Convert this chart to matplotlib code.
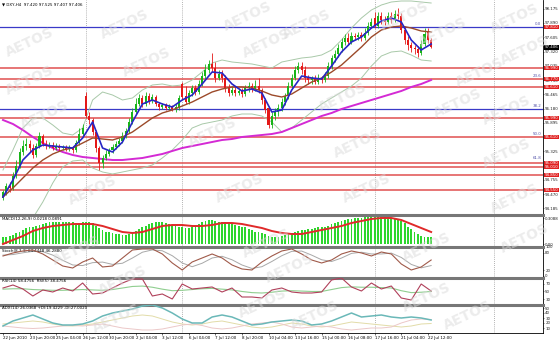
import numpy as np
import matplotlib
matplotlib.use("Agg")
import matplotlib.pyplot as plt
import matplotlib.transforms as mtransforms

# ---- price data (H4 candles) ----
opens = [94.39, 94.51, 94.63, 94.59, 94.83, 95.03, 95.31, 95.43, 95.47, 95.39,
         95.25, 95.43, 95.63, 95.47, 95.43, 95.45, 95.39, 95.43, 95.39, 95.41,
         95.37, 95.39, 95.35, 95.49, 95.67, 96.43, 96.03, 95.95, 95.71, 95.39,
         95.09, 95.19, 95.27, 95.35, 95.41, 95.47, 95.53, 95.63, 95.73, 95.91,
         96.11, 96.27, 96.39, 96.27, 96.43, 96.33, 96.41, 96.27, 96.21, 96.25,
         96.19, 96.21, 96.17, 96.21, 96.67, 96.43, 96.31, 96.49, 96.59, 96.51,
         96.67, 96.83, 96.95, 97.07, 96.99, 96.79, 96.87, 96.79, 96.59, 96.49,
         96.55, 96.49, 96.53, 96.47, 96.59, 96.63, 96.57, 96.63, 96.55, 96.35,
         96.19, 95.85, 96.03, 96.11, 96.19, 96.31, 96.43, 96.63, 96.79, 96.95,
         97.03, 96.95, 96.79, 96.75, 96.79, 96.71, 96.79, 96.75, 96.83, 97.03,
         97.19, 97.27, 97.39, 97.51, 97.59, 97.51, 97.63, 97.61, 97.65, 97.59,
         97.69, 97.83, 97.99, 97.83, 98.03, 97.95, 97.91, 98.03, 97.95, 98.07,
         98.03, 97.75, 97.55, 97.45, 97.39, 97.37, 97.29, 97.47, 97.71, 97.55]
highs = [94.55, 94.69, 94.71, 94.91, 95.15, 95.39, 95.55, 95.59, 95.55, 95.47,
         95.49, 95.71, 95.67, 95.55, 95.51, 95.51, 95.49, 95.47, 95.45, 95.45,
         95.45, 95.43, 95.55, 95.79, 95.87, 96.51, 96.11, 95.99, 95.75, 95.43,
         95.25, 95.35, 95.39, 95.47, 95.53, 95.59, 95.71, 95.79, 95.99, 96.19,
         96.39, 96.47, 96.45, 96.51, 96.49, 96.47, 96.45, 96.31, 96.29, 96.29,
         96.27, 96.25, 96.27, 96.45, 96.71, 96.63, 96.55, 96.65, 96.65, 96.75,
         96.91, 97.07, 97.15, 97.29, 97.11, 96.95, 96.95, 96.85, 96.67, 96.63,
         96.63, 96.59, 96.59, 96.65, 96.71, 96.69, 96.75, 96.79, 96.59, 96.39,
         96.23, 96.11, 96.19, 96.27, 96.39, 96.49, 96.71, 96.87, 97.03, 97.11,
         97.11, 97.03, 96.85, 96.83, 96.85, 96.87, 96.83, 96.91, 97.11, 97.25,
         97.35, 97.47, 97.59, 97.67, 97.69, 97.71, 97.69, 97.71, 97.71, 97.79,
         97.91, 97.99, 98.11, 98.11, 98.11, 98.03, 98.11, 98.11, 98.15, 98.19,
         98.09, 97.83, 97.63, 97.51, 97.45, 97.43, 97.55, 97.79, 97.79, 97.59]
lows = [94.35, 94.45, 94.51, 94.55, 94.79, 94.99, 95.25, 95.35, 95.31, 95.19,
        95.21, 95.39, 95.43, 95.37, 95.39, 95.35, 95.35, 95.33, 95.35, 95.33,
        95.33, 95.29, 95.31, 95.45, 95.63, 95.99, 95.87, 95.65, 95.31, 94.95,
        94.99, 95.15, 95.23, 95.29, 95.37, 95.43, 95.49, 95.59, 95.69, 95.87,
        96.07, 96.23, 96.21, 96.23, 96.27, 96.29, 96.23, 96.15, 96.17, 96.15,
        96.15, 96.13, 96.11, 96.15, 96.37, 96.27, 96.27, 96.43, 96.45, 96.47,
        96.63, 96.77, 96.89, 96.91, 96.71, 96.75, 96.71, 96.51, 96.43, 96.45,
        96.43, 96.45, 96.41, 96.43, 96.51, 96.51, 96.53, 96.49, 96.27, 96.09,
        95.79, 95.79, 95.95, 96.03, 96.13, 96.25, 96.37, 96.57, 96.75, 96.89,
        96.87, 96.71, 96.67, 96.67, 96.67, 96.67, 96.69, 96.71, 96.79, 96.97,
        97.11, 97.21, 97.31, 97.45, 97.45, 97.47, 97.55, 97.55, 97.53, 97.55,
        97.65, 97.79, 97.79, 97.79, 97.87, 97.85, 97.87, 97.89, 97.91, 97.97,
        97.69, 97.47, 97.35, 97.31, 97.27, 97.21, 97.25, 97.43, 97.49, 97.39]
closes = [94.51, 94.63, 94.59, 94.83, 95.03, 95.31, 95.43, 95.47, 95.39, 95.25,
          95.43, 95.63, 95.47, 95.43, 95.45, 95.39, 95.43, 95.39, 95.41, 95.37,
          95.39, 95.35, 95.49, 95.67, 95.79, 96.03, 95.95, 95.71, 95.39, 95.09,
          95.19, 95.27, 95.35, 95.41, 95.47, 95.53, 95.63, 95.73, 95.91, 96.11,
          96.27, 96.39, 96.27, 96.43, 96.33, 96.41, 96.27, 96.21, 96.25, 96.19,
          96.21, 96.17, 96.21, 96.39, 96.41, 96.31, 96.49, 96.59, 96.51, 96.67,
          96.83, 96.95, 97.07, 96.99, 96.79, 96.87, 96.79, 96.59, 96.49, 96.55,
          96.49, 96.53, 96.47, 96.59, 96.63, 96.57, 96.63, 96.55, 96.35, 96.15,
          95.85, 96.03, 96.11, 96.19, 96.31, 96.43, 96.63, 96.79, 96.95, 97.03,
          96.95, 96.79, 96.75, 96.79, 96.71, 96.79, 96.75, 96.83, 97.03, 97.19,
          97.27, 97.39, 97.51, 97.59, 97.51, 97.63, 97.61, 97.65, 97.59, 97.69,
          97.83, 97.91, 97.83, 98.03, 97.95, 97.91, 98.03, 97.95, 98.07, 98.03,
          97.75, 97.55, 97.45, 97.39, 97.37, 97.29, 97.47, 97.67, 97.55, 97.41]

# indicator lines, read every 3rd bar
ma_fast = [94.41, 94.75, 95.15, 95.35, 95.45, 95.43, 95.41, 95.39, 95.59, 95.91,
           95.39, 95.31, 95.51, 95.91, 96.27, 96.35, 96.27, 96.21, 96.35, 96.45,
           96.67, 96.91, 96.89, 96.67, 96.53, 96.57, 96.49, 96.11, 96.15, 96.55,
           96.83, 96.79, 96.77, 97.03, 97.31, 97.51, 97.61, 97.79, 97.93, 97.99,
           97.91, 97.55, 97.35, 97.47]
ma_mid = [94.41, 94.59, 94.79, 94.99, 95.15, 95.27, 95.35, 95.39, 95.49, 95.59,
          95.57, 95.55, 95.61, 95.71, 95.85, 95.99, 96.09, 96.15, 96.23, 96.31,
          96.41, 96.51, 96.57, 96.61, 96.61, 96.59, 96.53, 96.45, 96.41, 96.47,
          96.59, 96.71, 96.79, 96.91, 97.05, 97.23, 97.41, 97.61, 97.75, 97.81,
          97.83, 97.79, 97.73, 97.71]
ma_slow = [95.95, 95.87, 95.75, 95.61, 95.49, 95.39, 95.31, 95.25, 95.21, 95.19,
           95.17, 95.15, 95.15, 95.17, 95.19, 95.23, 95.27, 95.33, 95.39, 95.43,
           95.47, 95.51, 95.55, 95.57, 95.61, 95.63, 95.65, 95.67, 95.71, 95.79,
           95.87, 95.95, 96.03, 96.09, 96.17, 96.23, 96.29, 96.35, 96.41, 96.47,
           96.53, 96.61, 96.67, 96.75]
bb_upper = [94.95, 95.35, 95.79, 95.99, 95.99, 95.85, 95.69, 95.65, 95.79, 96.35,
            96.51, 96.45, 96.35, 96.39, 96.55, 96.65, 96.67, 96.63, 96.65, 96.75,
            96.91, 97.09, 97.15, 97.11, 97.09, 97.07, 97.03, 96.99, 97.11, 97.15,
            97.19, 97.21, 97.25, 97.35, 97.55, 97.79, 97.99, 98.15, 98.25, 98.31,
            98.33, 98.33, 98.31, 98.29]
bb_lower = [93.87, 93.83, 93.79, 93.99, 94.31, 94.69, 95.01, 95.13, 95.15, 94.99,
            94.91, 94.87, 94.91, 94.95, 94.99, 95.05, 95.19, 95.35, 95.55, 95.79,
            95.87, 95.91, 95.95, 96.03, 96.07, 96.07, 96.03, 95.91, 95.71, 95.79,
            95.95, 96.11, 96.27, 96.39, 96.51, 96.63, 96.79, 97.03, 97.23, 97.31,
            97.33, 97.25, 97.15, 97.13]

macd_hist = [0.08, 0.09, 0.10, 0.11, 0.13, 0.15, 0.17, 0.19, 0.20, 0.21,
             0.22, 0.23, 0.24, 0.25, 0.26, 0.26, 0.27, 0.27, 0.27, 0.26,
             0.26, 0.26, 0.25, 0.25, 0.26, 0.27, 0.27, 0.25, 0.22, 0.19,
             0.17, 0.15, 0.14, 0.13, 0.12, 0.12, 0.11, 0.11, 0.12, 0.14,
             0.16, 0.18, 0.20, 0.22, 0.24, 0.25, 0.26, 0.26, 0.26, 0.25,
             0.24, 0.23, 0.22, 0.21, 0.20, 0.19, 0.19, 0.20, 0.22, 0.24,
             0.26, 0.28, 0.29, 0.29, 0.28, 0.27, 0.27, 0.26, 0.25, 0.24,
             0.23, 0.22, 0.21, 0.20, 0.18, 0.17, 0.15, 0.14, 0.13, 0.12,
             0.10, 0.09, 0.09, 0.09, 0.10, 0.11, 0.12, 0.13, 0.15, 0.16,
             0.17, 0.17, 0.18, 0.18, 0.19, 0.20, 0.20, 0.21, 0.22, 0.24,
             0.25, 0.26, 0.28, 0.29, 0.30, 0.30, 0.31, 0.31, 0.31, 0.32,
             0.32, 0.33, 0.33, 0.33, 0.32, 0.32, 0.32, 0.31, 0.31, 0.30,
             0.28, 0.25, 0.21, 0.18, 0.15, 0.12, 0.10, 0.09, 0.09, 0.08]
macd_signal = [0.0, 0.048, 0.096, 0.156, 0.192, 0.216, 0.228, 0.24, 0.24, 0.24,
               0.216, 0.18, 0.144, 0.132, 0.144, 0.18, 0.216, 0.228, 0.228, 0.216,
               0.216, 0.228, 0.252, 0.252, 0.24, 0.216, 0.192, 0.156, 0.132, 0.12,
               0.12, 0.144, 0.168, 0.192, 0.216, 0.252, 0.276, 0.30, 0.312, 0.312,
               0.288, 0.24, 0.192, 0.144]
stoch_main = [69.0, 79.4, 86.3, 89.7, 75.9, 55.2, 34.5, 27.6, 48.3, 62.1,
              31.1, 34.5, 62.1, 89.7, 93.2, 93.2, 75.9, 44.9, 20.7, 48.3,
              62.1, 75.9, 62.1, 38.0, 24.2, 20.7, 48.3, 69.0, 86.3, 93.2,
              75.9, 55.2, 44.9, 55.2, 75.9, 86.3, 79.4, 69.0, 82.8, 75.9,
              41.4, 20.7, 31.1, 55.2]
stoch_signal = [72, 74, 80, 85, 84, 72, 54, 38, 36, 46, 48, 40, 44, 62, 82,
                90, 87, 70, 45, 32, 44, 62, 68, 56, 38, 26, 32, 50, 70, 85,
                86, 72, 56, 50, 62, 78, 82, 76, 76, 79, 64, 40, 28, 36]
rsi_main = [59.0, 66.8, 56.4, 38.2, 53.8, 48.6, 59.0, 51.2, 72.0, 43.4,
            46.0, 59.0, 72.0, 82.4, 82.4, 38.2, 43.4, 30.4, 69.4, 56.4,
            59.0, 61.6, 48.6, 59.0, 35.6, 35.6, 33.0, 53.8, 59.0, 48.6,
            46.0, 46.0, 48.6, 79.8, 85.0, 61.6, 51.2, 72.0, 56.4, 64.2,
            33.0, 27.8, 69.4, 51.2]
rsi_ma = [56, 57, 57, 55, 54, 53, 53, 54, 55, 54, 53, 55, 59, 63, 64,
          61, 56, 52, 53, 55, 57, 58, 56, 54, 50, 47, 46, 48, 51, 52,
          51, 50, 50, 55, 60, 62, 61, 61, 60, 59, 52, 47, 48, 50]
adx_line = [14, 24, 30, 36, 28, 20, 16, 16, 18, 24, 34, 40, 44, 48, 54,
            56, 50, 40, 28, 20, 20, 32, 36, 32, 24, 16, 18, 22, 24, 26,
            24, 16, 18, 24, 32, 40, 32, 34, 36, 32, 30, 32, 30, 26]
plus_di = [18, 20, 22, 24, 22, 18, 15, 14, 16, 18, 22, 26, 30, 34, 36,
           34, 28, 22, 18, 16, 18, 22, 24, 20, 16, 12, 10, 12, 16, 20,
           18, 14, 12, 14, 18, 22, 20, 18, 16, 14, 12, 14, 18, 19]
minus_di = [14, 12, 10, 9, 10, 12, 14, 15, 14, 16, 18, 14, 10, 8, 6,
            6, 8, 12, 16, 18, 15, 10, 8, 10, 14, 18, 20, 22, 18, 12,
            10, 12, 14, 12, 8, 6, 8, 10, 10, 12, 20, 26, 28, 27]

# levels drawn on the chart
red_levels = [96.99, 96.77, 96.61, 95.99, 95.61, 95.09, 95.01, 94.85, 94.55]
fib_levels = [97.81, 96.17]
fib_texts = [("0.0", 97.81), ("23.6", 96.77), ("38.2", 96.17), ("50.0", 95.61), ("61.8", 95.13)]
last_price = 97.406

price_ticks = [98.175, 97.890, 97.605, 97.320, 97.035, 96.750, 96.465, 96.180,
               95.895, 95.610, 95.325, 95.040, 94.755, 94.470, 94.185]
date_labels = ["22 Jun 2010", "23 Jun 20:00", "25 Jun 04:00", "26 Jun 12:00",
               "30 Jun 20:00", "2 Jul 04:00", "3 Jul 12:00", "6 Jul 04:00",
               "7 Jul 12:00", "8 Jul 20:00", "10 Jul 04:00", "13 Jul 16:00",
               "15 Jul 00:00", "16 Jul 08:00", "17 Jul 16:00", "21 Jul 04:00",
               "22 Jul 12:00"]
separators = [25, 54, 112, 148]

W, H = 560, 340
FS = 2.9
fig = plt.figure(figsize=(W / 100, H / 100), dpi=100)
fig.patch.set_facecolor("white")


def rect(top, bottom):
    return [0.0, 1 - bottom / H, 543 / W, (bottom - top) / H]


ax_main = fig.add_axes(rect(0, 215))
ax_macd = fig.add_axes(rect(215, 247), sharex=ax_main)
ax_sto = fig.add_axes(rect(247, 278), sharex=ax_main)
ax_rsi = fig.add_axes(rect(278, 305), sharex=ax_main)
ax_adx = fig.add_axes(rect(305, 333), sharex=ax_main)
axes = [ax_main, ax_macd, ax_sto, ax_rsi, ax_adx]

bars = np.arange(len(closes))
samp = bars[::3]

for ax in axes:
    ax.set_facecolor("white")
    ax.yaxis.tick_right()
    ax.tick_params(axis="y", labelsize=FS, length=1, width=0.4, pad=0.6, colors="#222222")
    ax.tick_params(axis="x", labelbottom=False, length=0)
    ax.spines["left"].set_visible(False)
    ax.spines["bottom"].set_visible(False)
    ax.spines["right"].set_linewidth(0.6)
    ax.spines["top"].set_color("#777777")
    ax.spines["top"].set_linewidth(2.2)
    for s in separators:
        ax.axvline(s, color="#999999", lw=0.6, ls=(0, (1, 1.5)), zorder=1)
ax_main.spines["top"].set_visible(False)
ax_adx.spines["bottom"].set_visible(True)
ax_adx.spines["bottom"].set_linewidth(0.6)
ax_main.set_xlim(-0.9, 162.7)

# ---- main price panel ----
o, h, l, c = map(np.array, (opens, highs, lows, closes))
col = np.where(c >= o, "#18b418", "#e41818")
for lv in red_levels:
    ax_main.axhline(lv, color="#e05050", lw=1.1, zorder=2)
for lv in fib_levels:
    ax_main.axhline(lv, color="#3a3ac8", lw=0.9, zorder=2)
ax_main.plot(samp, bb_upper, color="#a9c9a9", lw=0.7, zorder=3)
ax_main.plot(samp, bb_lower, color="#a9c9a9", lw=0.7, zorder=3)
ax_main.plot(samp, ma_slow, color="#d42ad4", lw=1.4, zorder=3)
ax_main.vlines(bars, l, h, colors=col, lw=0.6, zorder=4)
ax_main.bar(bars, np.maximum(np.abs(c - o), 0.012), bottom=np.minimum(o, c),
            width=0.62, color=col, lw=0, zorder=5)
ax_main.plot(samp, ma_mid, color="#9c4a2a", lw=1.0, zorder=6)
ax_main.plot(samp, ma_fast, color="#2626c4", lw=1.2, zorder=6)
ax_main.set_ylim(98.35 - 215 * 0.02, 98.35)
ax_main.set_yticks(price_ticks)
ax_main.set_yticklabels([f"{t:.3f}" for t in price_ticks])

tr = mtransforms.blended_transform_factory(ax_main.transAxes, ax_main.transData)
box = dict(boxstyle="square,pad=0.1", fc="#e02020", ec="none")
for lv in red_levels + fib_levels[:1]:
    ax_main.text(1.003, lv, f"{lv:.3f}", transform=tr, fontsize=FS, color="white",
                 va="center", ha="left", clip_on=False, zorder=10, bbox=box)
ax_main.text(1.003, last_price, f"{last_price:.3f}", transform=tr, fontsize=FS,
             color="white", va="center", ha="left", clip_on=False, zorder=10,
             bbox=dict(boxstyle="square,pad=0.1", fc="black", ec="none"))
for txt, lv in fib_texts:
    ax_main.text(0.997, lv + 0.02, txt, transform=tr, fontsize=FS, color="#5555aa",
                 va="bottom", ha="right")
ax_main.text(0.004, 0.99, "\u25bc DXY,H4  97.420 97.525 97.407 97.406",
             transform=ax_main.transAxes, fontsize=FS, va="top", ha="left")

# ---- MACD ----
ax_macd.bar(bars, macd_hist, width=0.55, color="#2ed62e", lw=0, zorder=3)
ax_macd.plot(samp, macd_signal, color="#e02a2a", lw=1.4, zorder=4)
ax_macd.set_ylim(-0.036, 0.348)
ax_macd.set_yticks([0.3088, 0.0])
ax_macd.set_yticklabels(["0.3088", "0.00"])
ax_macd.text(0.004, 0.95, "MACD(12,26,9) 0.0218 0.0891", transform=ax_macd.transAxes,
             fontsize=FS, va="top", ha="left")

# ---- Stochastic ----
ax_sto.plot(samp, stoch_signal, color="#a8a8a8", lw=0.7, zorder=3)
ax_sto.plot(samp, stoch_main, color="#a05a4a", lw=0.8, zorder=4)
ax_sto.set_ylim(-6.9, 100)
ax_sto.set_yticks([100, 80, 20, 0])
ax_sto.set_yticklabels(["100", "80", "20", "0"])
ax_sto.text(0.004, 0.95, "Stoch(8,3,3) 64.4448 46.2880", transform=ax_sto.transAxes,
            fontsize=FS, va="top", ha="left")

# ---- RSI ----
ax_rsi.plot(samp, rsi_ma, color="#8fce8f", lw=0.8, zorder=3)
ax_rsi.plot(samp, rsi_main, color="#b0405a", lw=0.8, zorder=4)
ax_rsi.set_ylim(14.8, 85)
ax_rsi.set_yticks([70, 50, 30])
ax_rsi.set_yticklabels(["70", "50", "30"])
ax_rsi.text(0.004, 0.95, "RSI(14) 58.4756  RSI(5) 38.4756", transform=ax_rsi.transAxes,
            fontsize=FS, va="top", ha="left")

# ---- ADX ----
ax_adx.plot(samp, plus_di, color="#e2dca8", lw=0.7, zorder=3)
ax_adx.plot(samp, minus_di, color="#ecc8c8", lw=0.7, zorder=3)
ax_adx.plot(samp, adx_line, color="#6ab8b8", lw=1.1, zorder=4)
ax_adx.set_ylim(0, 56)
ax_adx.set_yticks([50, 40, 30, 20, 10])
ax_adx.set_yticklabels(["50", "40", "30", "20", "10"])
ax_adx.text(0.004, 0.95, "ADX(14) 26.0368 +DI:19.4229 -DI:27.0020", transform=ax_adx.transAxes,
            fontsize=FS, va="top", ha="left")
ax_adx.set_xticks(bars[::8])
ax_adx.set_xticklabels(date_labels, ha="left")
ax_adx.tick_params(axis="x", labelbottom=True, labelsize=FS, length=1.5, width=0.4, pad=1)

# ---- watermark ----
marks = [(30, 42), (125, 24), (248, 16), (147, 62), (267, 43), (30, 80), (45, 115),
         (213, 132), (93, 190), (240, 188), (77, 250), (123, 280), (267, 243),
         (117, 318), (263, 303), (405, 16), (307, 24), (443, 32), (515, 18), (525, 50),
         (480, 72), (343, 97), (458, 103), (507, 110), (358, 143), (507, 153),
         (367, 188), (515, 198), (427, 247), (290, 268), (427, 297), (315, 315),
         (525, 238), (468, 315)]
for x, y in marks:
    fig.text(x / W, 1 - y / H, "AETOS", rotation=25, fontsize=10, fontweight="bold",
             color="#d9d9d9", alpha=0.5, ha="center", va="center")

fig.savefig("out.png", dpi=100)
